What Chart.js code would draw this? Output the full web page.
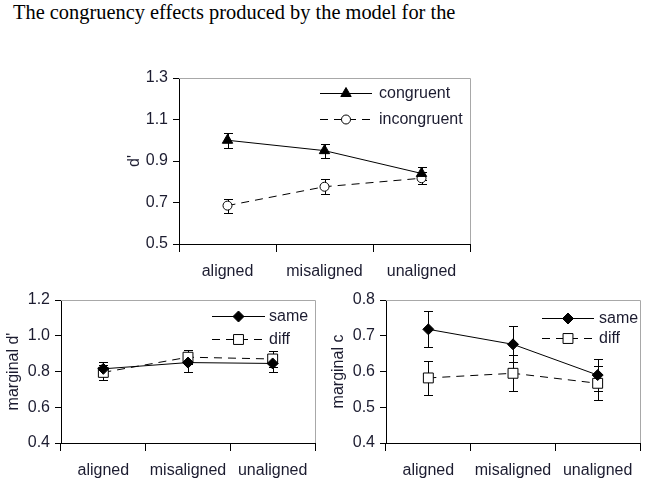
<!DOCTYPE html>
<html>
<head>
<meta charset="utf-8">
<script src="https://cdn.jsdelivr.net/npm/chart.js@4"></script>
<style>
  body { margin: 0; background: #fff; width: 651px; height: 478px; overflow: hidden; position: relative; }
  canvas { position: absolute; }
  #caption { position: absolute; left: 13px; top: 1px; font: 20.4px "Liberation Serif", "Times New Roman", serif; color: #000; white-space: nowrap; }
</style>
</head>
<body>
<div id="caption">The congruency effects produced by the model for the</div>
<canvas id="topChart" width="369" height="225" style="left:121px;top:60px"></canvas>
<canvas id="leftChart" width="325" height="193" style="left:0px;top:285px"></canvas>
<canvas id="rightChart" width="326" height="193" style="left:325px;top:285px"></canvas>
<script>
// data
const categories = ['aligned', 'misaligned', 'unaligned'];

const congruent = [1.0, 0.95, 0.84];
const congruentErr = [0.036, 0.034, 0.032];
const incongruent = [0.685, 0.776, 0.817];
const incongruentErr = [0.034, 0.036, 0.03];

const dSame = [0.815, 0.85, 0.845];
const dSameErr = [0.04, 0.05, 0.05];
const dDiff = [0.795, 0.88, 0.87];
const dDiffErr = [0.043, 0.04, 0.045];

const cSame = [0.718, 0.676, 0.59];
const cSameErr = [0.05, 0.05, 0.045];
const cDiff = [0.582, 0.595, 0.567];
const cDiffErr = [0.048, 0.05, 0.047];

const topTicks = [0.5, 0.7, 0.9, 1.1, 1.3];
const dTicks = [0.4, 0.6, 0.8, 1.0, 1.2];
const cTicks = [0.4, 0.5, 0.6, 0.7, 0.8];

const textColor = '#1c1c30';
const font = { family: 'Liberation Sans, Arial, sans-serif', size: 16 };

// grey frame on top and right of plot
const frame = {
  id: 'frame',
  afterDraw(chart) {
    const a = chart.chartArea, ctx = chart.ctx;
    ctx.save();
    ctx.strokeStyle = '#a8a8a8';
    ctx.lineWidth = 1;
    ctx.beginPath();
    ctx.moveTo(a.left, Math.round(a.top) + 0.5);
    ctx.lineTo(Math.round(a.right) + 0.5, Math.round(a.top) + 0.5);
    ctx.lineTo(Math.round(a.right) + 0.5, a.bottom);
    ctx.stroke();
    ctx.restore();
  }
};

// vertical error bars with caps
const errorBars = {
  id: 'errorBars',
  beforeDatasetsDraw(chart) {
    const ctx = chart.ctx, ys = chart.scales.y;
    ctx.save();
    ctx.strokeStyle = '#000';
    ctx.lineWidth = 1;
    chart.data.datasets.forEach((ds, i) => {
      chart.getDatasetMeta(i).data.forEach((pt, j) => {
        const x = Math.round(pt.x) + 0.5;
        const top = Math.round(ys.getPixelForValue(ds.data[j] + ds.errors[j])) + 0.5;
        const bot = Math.round(ys.getPixelForValue(ds.data[j] - ds.errors[j])) + 0.5;
        ctx.beginPath();
        ctx.moveTo(x, top); ctx.lineTo(x, bot);
        ctx.moveTo(x - 4.5, top); ctx.lineTo(x + 4.5, top);
        ctx.moveTo(x - 4.5, bot); ctx.lineTo(x + 4.5, bot);
        ctx.stroke();
      });
    });
    ctx.restore();
  }
};

// legend drawn inside the plot: line with marker in the middle
const lineLegend = {
  id: 'lineLegend',
  afterDraw(chart, args, opts) {
    const ctx = chart.ctx;
    chart.data.datasets.forEach((ds, i) => {
      const y = opts.y + i * opts.gap;
      ctx.save();
      ctx.strokeStyle = '#000';
      ctx.lineWidth = 1;
      ctx.setLineDash(ds.borderDash || []);
      ctx.beginPath();
      ctx.moveTo(opts.x, Math.round(y) + 0.5);
      ctx.lineTo(opts.x + opts.len, Math.round(y) + 0.5);
      ctx.stroke();
      ctx.setLineDash([]);
      ctx.fillStyle = ds.pointBackgroundColor;
      ctx.strokeStyle = ds.pointBorderColor;
      ctx.lineWidth = ds.pointBorderWidth;
      Chart.helpers.drawPoint(ctx, {
        pointStyle: ds.pointStyle, radius: ds.pointRadius, rotation: 0, borderWidth: ds.pointBorderWidth
      }, opts.x + opts.len / 2, Math.round(y) + 0.5);
      ctx.fillStyle = textColor;
      ctx.font = font.size + 'px ' + font.family;
      ctx.textBaseline = 'middle';
      ctx.fillText(ds.label, opts.x + opts.len + opts.textGap, y + 1);
      ctx.restore();
    });
  }
};

function series(label, data, errors, style, radius, filled, dashed) {
  return {
    label: label,
    data: data,
    errors: errors,
    borderColor: '#000',
    borderWidth: 1,
    borderDash: dashed ? [8, 6] : [],
    pointStyle: style,
    pointRadius: radius,
    pointHoverRadius: radius,
    pointBackgroundColor: filled ? '#000' : '#fff',
    pointBorderColor: '#000',
    pointBorderWidth: 1,
    fill: false,
    tension: 0
  };
}

function makeChart(id, datasets, ticks, title, box, legendPos) {
  return new Chart(document.getElementById(id), {
    type: 'line',
    data: { labels: categories, datasets: datasets },
    options: {
      responsive: false,
      animation: false,
      events: [],
      layout: { padding: { top: box.top, right: box.right, left: 0, bottom: 0 } },
      scales: {
        x: {
          type: 'category',
          offset: true,
          grid: { offset: true, drawOnChartArea: false, tickLength: 8, color: '#000' },
          border: { color: '#000' },
          ticks: { color: textColor, font: font, padding: 10, maxRotation: 0, autoSkip: false },
          afterFit: s => { s.height = box.xHeight; }
        },
        y: {
          min: ticks[0],
          max: ticks[ticks.length - 1],
          afterBuildTicks: s => { s.ticks = ticks.map(v => ({ value: v })); },
          grid: { drawOnChartArea: false, tickLength: 6, color: '#000' },
          border: { color: '#000' },
          ticks: { color: textColor, font: font, padding: 5, callback: v => v.toFixed(1) },
          title: { display: true, text: title, color: textColor, font: font },
          afterFit: s => { s.width = box.yWidth; }
        }
      },
      plugins: {
        legend: { display: false },
        tooltip: { enabled: false },
        lineLegend: legendPos
      }
    },
    plugins: [frame, errorBars, lineLegend]
  });
}

makeChart('topChart', [
  series('congruent', congruent, congruentErr, 'triangle', 6, true, false),
  series('incongruent', incongruent, incongruentErr, 'circle', 4.5, false, true)
], topTicks, "d'", { top: 18, right: 20, xHeight: 41, yWidth: 58 },
  { x: 199, y: 33, gap: 26, len: 52, textGap: 7 });

makeChart('leftChart', [
  series('same', dSame, dSameErr, 'rectRot', 5.5, true, false),
  series('diff', dDiff, dDiffErr, 'rect', 7, false, true)
], dTicks, "marginal d'", { top: 15, right: 10, xHeight: 35, yWidth: 61 },
  { x: 212, y: 31, gap: 23, len: 53, textGap: 4 });

makeChart('rightChart', [
  series('same', cSame, cSameErr, 'rectRot', 5.5, true, false),
  series('diff', cDiff, cDiffErr, 'rect', 7, false, true)
], cTicks, 'marginal c', { top: 15, right: 11, xHeight: 35, yWidth: 61 },
  { x: 217, y: 32.5, gap: 20, len: 52, textGap: 5 });
</script>
</body>
</html>
